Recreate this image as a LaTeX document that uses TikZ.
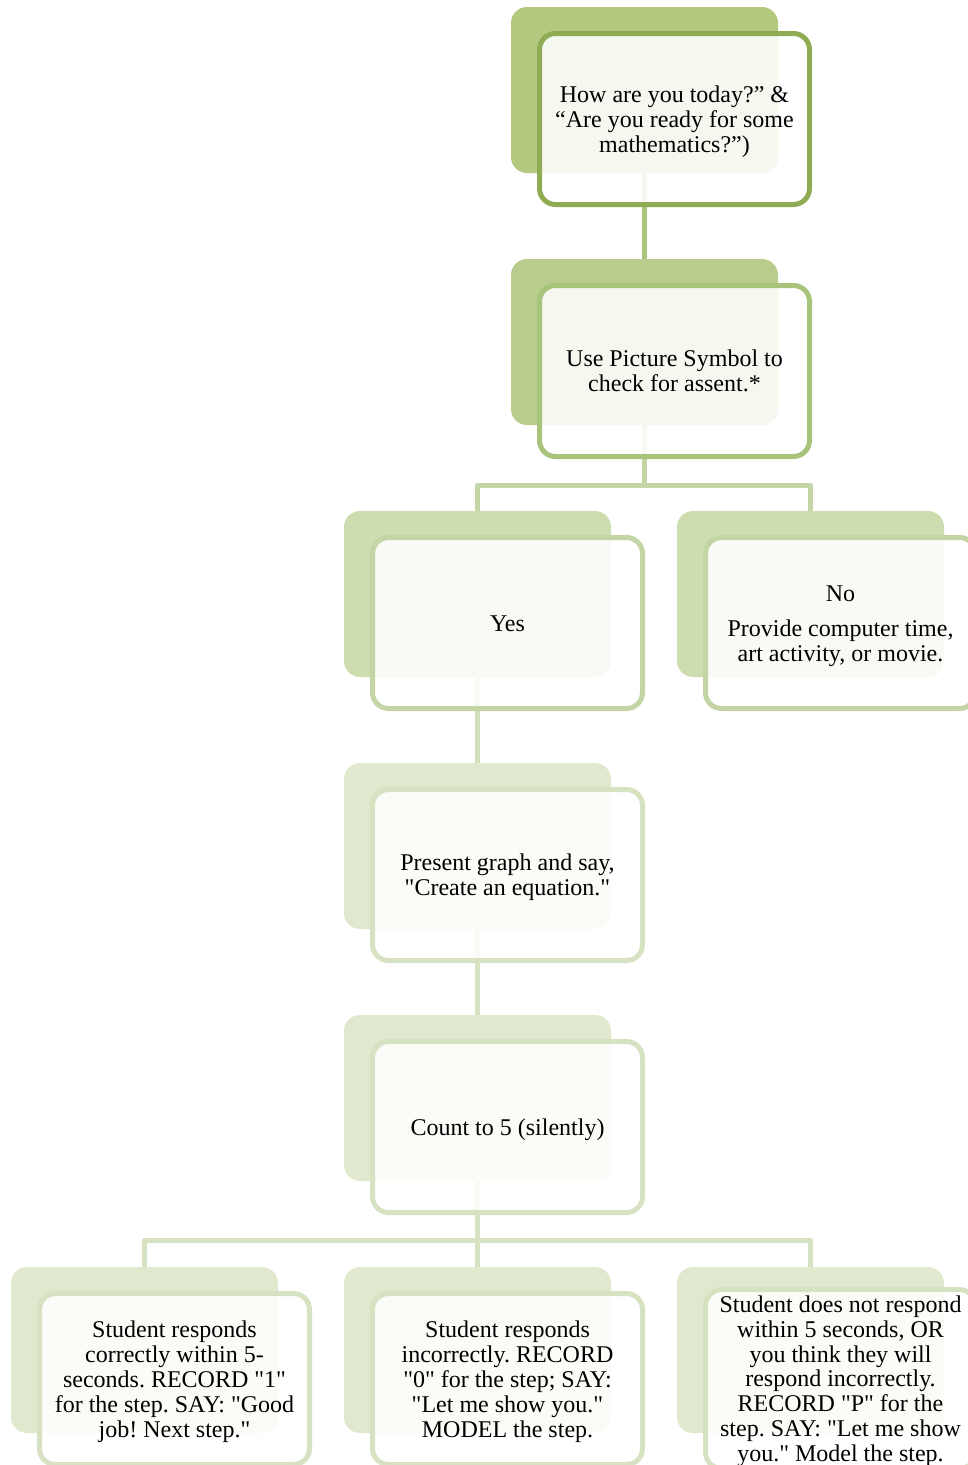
\documentclass[tikz,border=0pt]{standalone}
\usepackage{fontspec}
\setmainfont{Liberation Serif}[Ligatures=TeXOff]
\newcommand\boxtext[1]{\raisebox{-3pt}[\height][\depth]{\begin{tabular}{@{}c@{}}#1\end{tabular}}}
\begin{document}
\frenchspacing
\begin{tikzpicture}[x=1pt,y=-1pt,
  backbox/.style={rectangle, rounded corners=16pt, minimum width=267pt, minimum height=166pt, inner sep=0pt, draw=none},
  frontbox/.style={rectangle, rounded corners=16pt, minimum width=270pt, minimum height=171pt, inner sep=3pt,
     line width=5pt, fill=white, fill opacity=0.88, text opacity=1, draw opacity=1,
     font=\fontsize{24}{25}\selectfont\frenchspacing, text=black},
  conn/.style={line width=5pt, line join=round}]
\useasboundingbox (0,0) rectangle (968,1465);
% colours
\definecolor{bA}{HTML}{B3C97F}\definecolor{fA}{HTML}{8FAC55}\definecolor{cA}{HTML}{A9C57C}
\definecolor{bB}{HTML}{B8CD8B}\definecolor{fB}{HTML}{A8C47B}\definecolor{cB}{HTML}{C4D6A6}
\definecolor{bC}{HTML}{CEDDAF}\definecolor{fC}{HTML}{C3D5A4}\definecolor{cC}{HTML}{D2E0BE}
\definecolor{bD}{HTML}{E0E9CD}\definecolor{fD}{HTML}{D6E2C2}\definecolor{cD}{HTML}{D6E2C2}

% positions
\coordinate (p0) at (644.5,90);
\coordinate (p1) at (644.5,342);
\coordinate (pyes) at (477.5,594);
\coordinate (pno) at (810.5,594);
\coordinate (p3) at (477.5,846);
\coordinate (p4) at (477.5,1098);
\coordinate (pl) at (144.5,1350);
\coordinate (pm) at (477.5,1350);
\coordinate (pr) at (810.5,1350);
\coordinate (j1) at (644.5,485);
\coordinate (j2) at (477.5,1240);

% connectors (drawn first, under boxes)
\draw[conn, cA] (p0) -- (p1);
\draw[conn, cB] (p1) -- (j1) -| (pyes);
\draw[conn, cB] (j1) -| (pno);
\draw[conn, cC] (pyes) -- (p3);
\draw[conn, cD] (p3) -- (p4);
\draw[conn, cD] (p4) -- (j2) -| (pl);
\draw[conn, cD] (j2) -| (pr);
\draw[conn, cD] (j2) -- (pm);

% node pairs
\node[backbox, fill=bA] (b0) at (p0) {};
\node[frontbox, draw=fA] (n0) at ([shift={(30pt,-29pt)}]b0.center) {\boxtext{How are you today?” \&\\“Are you ready for some\\mathematics?”)}};

\node[backbox, fill=bB] (b1) at (p1) {};
\node[frontbox, draw=fB] (n1) at ([shift={(30pt,-29pt)}]b1.center) {\boxtext{Use Picture Symbol to\\check for assent.*}};

\node[backbox, fill=bC] (byes) at (pyes) {};
\node[frontbox, draw=fC] (nyes) at ([shift={(30pt,-29pt)}]byes.center) {\boxtext{Yes}};

\node[backbox, fill=bC] (bno) at (pno) {};
\node[frontbox, draw=fC] (nno) at ([shift={(30pt,-29pt)}]bno.center) {\boxtext{No\\[10pt]Provide computer time,\\art activity, or movie.}};

\node[backbox, fill=bD] (b3) at (p3) {};
\node[frontbox, draw=fD] (n3) at ([shift={(30pt,-29pt)}]b3.center) {\boxtext{Present graph and say,\\"Create an equation."}};

\node[backbox, fill=bD] (b4) at (p4) {};
\node[frontbox, draw=fD] (n4) at ([shift={(30pt,-29pt)}]b4.center) {\boxtext{Count to 5 (silently)}};

\node[backbox, fill=bD] (bl) at (pl) {};
\node[frontbox, draw=fD] (nl) at ([shift={(30pt,-29pt)}]bl.center) {\boxtext{Student responds\\correctly within 5-\\seconds. RECORD "1"\\for the step. SAY: "Good\\job! Next step."}};

\node[backbox, fill=bD] (bm) at (pm) {};
\node[frontbox, draw=fD] (nm) at ([shift={(30pt,-29pt)}]bm.center) {\boxtext{Student responds\\incorrectly. RECORD\\"0" for the step; SAY:\\"Let me show you."\\MODEL the step.}};

\node[backbox, fill=bD] (br) at (pr) {};
\node[frontbox, draw=fD, font=\fontsize{24}{24.7}\selectfont\frenchspacing] (nr) at ([shift={(30pt,-29pt)}]br.center) {\boxtext{Student does not respond\\within 5 seconds, OR\\you think they will\\respond incorrectly.\\RECORD "P" for the\\step. SAY: "Let me show\\you." Model the step.}};
\end{tikzpicture}
\end{document}
